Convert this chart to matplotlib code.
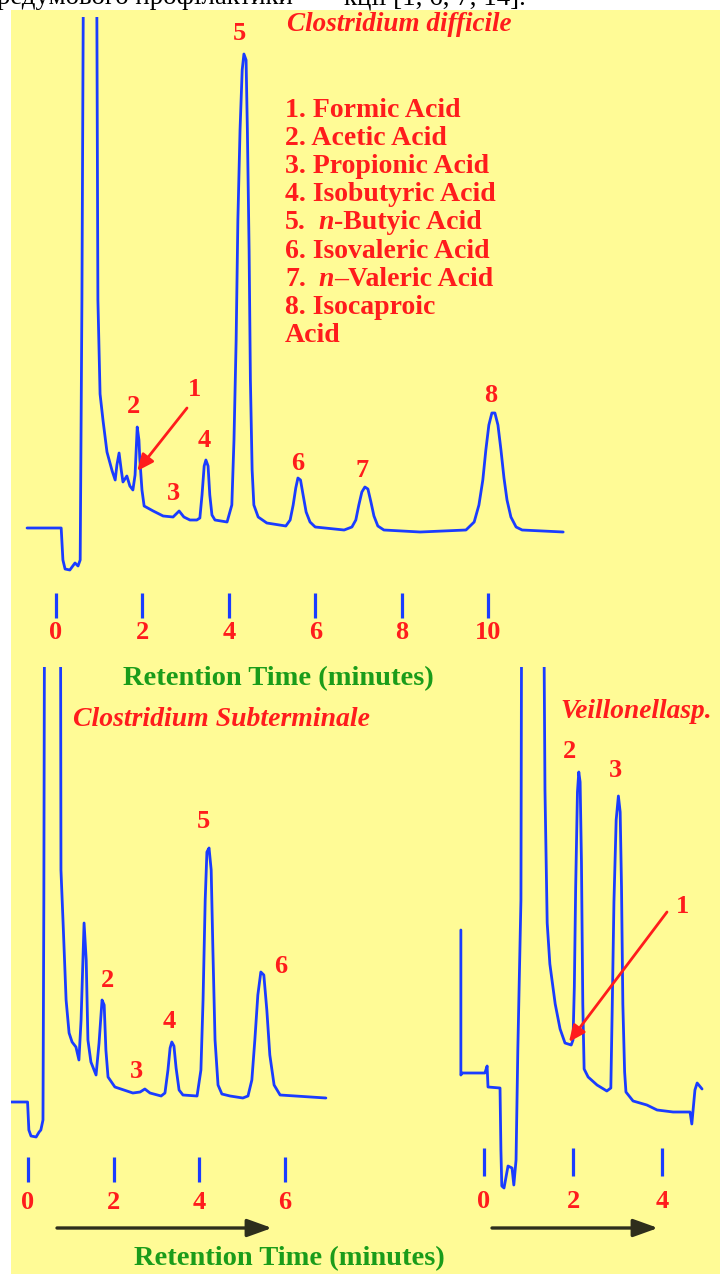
import matplotlib
matplotlib.use('Agg')
import matplotlib.pyplot as plt
from matplotlib.patches import Rectangle, FancyArrowPatch

# ---------------- data ----------------
# (retention time in min, detector signal in arbitrary units; >100 = off scale)
difficile_trace = [
    (-0.67, 0), (0.12, 0), (0.16, -6.4), (0.21, -8.2), (0.32, -8.4), (0.44, -7.0),
    (0.51, -7.6), (0.56, -6.4), (0.60, 45.6), (0.65, 140), (0.93, 140), (0.97, 45.6),
    (1.02, 26.8), (1.09, 21.4), (1.18, 15.2), (1.30, 11.4), (1.37, 9.6), (1.41, 12.6),
    (1.46, 15.0), (1.51, 11.6), (1.55, 9.2), (1.64, 10.4), (1.71, 8.4), (1.78, 7.6),
    (1.83, 10.6), (1.88, 20.2), (1.92, 17.6), (1.94, 13.8), (1.99, 7.6), (2.04, 4.4),
    (2.25, 3.4), (2.48, 2.4), (2.71, 2.2), (2.85, 3.4), (2.96, 2.2), (3.10, 1.6),
    (3.26, 1.6), (3.33, 2.0), (3.38, 6.6), (3.43, 12.4), (3.47, 13.6), (3.52, 12.4),
    (3.56, 6.6), (3.61, 2.6), (3.68, 1.6), (3.96, 1.2), (4.07, 4.6), (4.12, 17.6),
    (4.17, 37.6), (4.21, 61.6), (4.26, 79.6), (4.31, 91.6), (4.35, 94.8), (4.40, 93.6),
    (4.43, 79.6), (4.47, 55.6), (4.50, 29.6), (4.54, 11.6), (4.58, 4.6), (4.68, 2.2),
    (4.88, 1.0), (5.32, 0.4), (5.42, 1.6), (5.49, 4.6), (5.55, 8.0), (5.60, 10.0),
    (5.66, 9.6), (5.72, 6.6), (5.79, 3.2), (5.88, 1.2), (6.00, 0.2), (6.67, -0.4),
    (6.85, 0.2), (6.94, 1.6), (7.01, 4.6), (7.08, 7.2), (7.15, 8.2), (7.22, 7.8),
    (7.29, 5.2), (7.36, 2.4), (7.45, 0.4), (7.59, -0.4), (8.43, -0.8), (9.49, -0.4),
    (9.68, 1.2), (9.79, 4.6), (9.88, 9.6), (9.95, 15.6), (10.02, 20.6), (10.09, 23.0),
    (10.16, 23.0), (10.23, 20.6), (10.30, 15.6), (10.37, 10.0), (10.44, 5.6),
    (10.53, 2.2), (10.65, 0.2), (10.79, -0.4), (11.74, -0.8)]

subterm_trace = [
    (-0.39, -0.8), (-0.01, -0.8), (0.02, -6.4), (0.07, -7.6), (0.19, -7.8), (0.26, -6.8),
    (0.30, -6.4), (0.35, -4.4), (0.37, 39.6), (0.40, 150), (0.75, 150), (0.77, 45.6),
    (0.82, 35.0), (0.89, 19.6), (0.96, 13.0), (1.03, 11.2), (1.12, 10.2), (1.19, 7.6),
    (1.24, 15.6), (1.31, 35.0), (1.36, 27.6), (1.40, 11.6), (1.47, 7.2), (1.59, 4.6),
    (1.66, 11.0), (1.73, 19.6), (1.78, 18.6), (1.82, 9.6), (1.87, 4.2), (2.03, 2.2),
    (2.45, 1.0), (2.62, 1.2), (2.73, 1.8), (2.85, 1.0), (3.11, 0.4), (3.20, 1.0),
    (3.27, 5.6), (3.32, 10.0), (3.36, 11.2), (3.41, 10.4), (3.46, 6.0), (3.53, 1.6),
    (3.62, 0.6), (3.95, 0.4), (4.04, 5.6), (4.09, 19.6), (4.14, 39.6), (4.18, 49.2),
    (4.23, 50.0), (4.28, 45.6), (4.32, 29.6), (4.37, 11.6), (4.44, 2.6), (4.53, 0.8),
    (4.72, 0.4), (5.02, 0.0), (5.14, 0.4), (5.23, 3.6), (5.30, 11.6), (5.37, 20.6),
    (5.44, 25.2), (5.51, 24.6), (5.58, 17.6), (5.65, 8.6), (5.75, 2.6), (5.89, 0.6),
    (6.96, 0.0)]

veill_trace = [
    (-0.52, 36.4), (-0.52, 7.4), (-0.49, 7.8), (0.02, 7.8), (0.07, 9.2), (0.09, 5.0),
    (0.36, 4.8), (0.38, -7.6), (0.40, -14.8), (0.45, -15.2), (0.54, -10.8), (0.63, -11.2),
    (0.67, -14.6), (0.72, -9.6), (0.76, 12.4), (0.83, 42.4), (0.85, 120), (1.33, 120),
    (1.37, 64.4), (1.42, 37.8), (1.48, 29.6), (1.60, 21.6), (1.71, 16.6), (1.82, 13.8),
    (1.96, 13.4), (2.00, 14.4), (2.03, 25.0), (2.06, 45.0), (2.10, 64.0), (2.13, 68.0),
    (2.16, 66.0), (2.19, 50.0), (2.22, 21.6), (2.25, 8.6), (2.34, 7.0), (2.54, 5.4),
    (2.76, 4.2), (2.85, 4.8), (2.88, 20.0), (2.92, 42.0), (2.97, 58.4), (3.02, 63.2),
    (3.06, 60.0), (3.09, 45.0), (3.12, 21.6), (3.16, 8.0), (3.19, 4.0), (3.35, 2.2),
    (3.66, 1.4), (3.89, 0.4), (4.25, 0.0), (4.63, 0.0), (4.67, -2.4), (4.74, 4.4),
    (4.79, 5.8), (4.90, 4.6)]

difficile_ticks = [0, 2, 4, 6, 8, 10]
subterm_ticks = [0, 2, 4, 6]
veill_ticks = [0, 2, 4]

acid_names = ["1. Formic Acid", "2. Acetic Acid", "3. Propionic Acid",
              "4. Isobutyric Acid", ("5.", "n", "-Butyic Acid"), "6. Isovaleric Acid",
              ("7.", "n", "\u2013Valeric Acid"), "8. Isocaproic", "Acid"]

formic_difficile = (1.88, 11.4)   # peak 1 position (min, signal)
formic_veill = (1.91, 14.0)

# ---------------- style ----------------
W, H, DPI = 720, 1274, 100
BLUE = '#1a3cff'
RED = '#ff1c1c'
GREEN = '#1a9c1a'
YELLOW = '#fffb96'
SERIF = ['Liberation Serif', 'DejaVu Serif']

fig = plt.figure(figsize=(W / DPI, H / DPI), dpi=DPI, facecolor='white')
fig.add_artist(Rectangle((11 / W, 0), 1 - 11 / W, 1 - 10 / H, transform=fig.transFigure,
                         facecolor=YELLOW, edgecolor='none', zorder=-10))


def ftext(x, y, s, size=19, color=RED, ha='center', weight='bold', style='normal', **kw):
    return fig.text(x / W, 1 - y / H, s, ha=ha, va='baseline', fontsize=size, color=color,
                    family=SERIF, weight=weight, style=style, **kw)


def panel(px_box, x0_px, px_per_min, base_px, px_per_unit, spine_px, ticks, ticklen, pad):
    left, top, right, bottom = px_box
    ax = fig.add_axes([left / W, 1 - bottom / H, (right - left) / W, (bottom - top) / H])
    ax.set_xlim((left - x0_px) / px_per_min, (right - x0_px) / px_per_min)
    ax.set_ylim((base_px - bottom) / px_per_unit, (base_px - top) / px_per_unit)
    ax.patch.set_visible(False)
    for sp in ax.spines.values():
        sp.set_visible(False)
    ax.spines['bottom'].set_position(('data', (base_px - spine_px) / px_per_unit))
    ax.set_yticks([])
    ax.set_xticks(ticks)
    ax.set_xticklabels([str(t) for t in ticks])
    ax.tick_params(axis='x', direction='out', length=ticklen, width=2.3, color=BLUE,
                   pad=pad, labelsize=19, labelcolor=RED)
    for lab in ax.get_xticklabels():
        lab.set_fontfamily(SERIF)
        lab.set_fontweight('bold')
    return ax


def trace(ax, pts):
    t, s = zip(*pts)
    ax.plot(t, s, color=BLUE, lw=2.0, solid_joinstyle='round', solid_capstyle='round')


ax1 = panel((11, 17, 720, 600), 56, 43.2, 528, 5, 593, difficile_ticks, 18, 2.5)
trace(ax1, difficile_trace)

ax2 = panel((11, 667, 450, 1165), 28, 42.8, 1098, 5, 1157, subterm_ticks, 18, 6.5)
trace(ax2, subterm_trace)

ax3 = panel((450, 667, 720, 1195), 484, 44.5, 1112, 5, 1148, veill_ticks, 20, 10)
trace(ax3, veill_trace)

# red arrows to peak 1
red_arrow = dict(arrowstyle='-|>,head_length=0.45,head_width=0.2', color=RED,
                 lw=2.0, mutation_scale=22, shrinkA=0, shrinkB=0)
ax1.annotate('', xy=formic_difficile, xytext=(187, H - 408), textcoords='figure pixels',
             arrowprops=red_arrow)
ax3.annotate('', xy=formic_veill, xytext=(667, H - 912), textcoords='figure pixels',
             arrowprops=red_arrow)

# black time-direction arrows
for x0, x1 in [(57, 272), (492, 658)]:
    fig.add_artist(FancyArrowPatch(
        (x0, H - 1228), (x1, H - 1228), transform=None,
        arrowstyle='-|>,head_length=0.5,head_width=0.18', mutation_scale=30,
        color='#2e2e1c', lw=2.4, shrinkA=0, shrinkB=0))

# peak labels
peak_labels = [("1", 194, 396), ("2", 134, 413), ("3", 173, 500), ("4", 204, 447),
               ("5", 239, 40), ("6", 298, 470), ("7", 362, 477), ("8", 491, 402),
               ("2", 108, 987), ("3", 136, 1078), ("4", 169, 1028), ("5", 203, 828),
               ("6", 281, 973),
               ("2", 570, 758), ("3", 615, 777), ("1", 683, 913)]
for s, x, y in peak_labels:
    ftext(x, y, s)

# titles
ftext(287, 31, "Clostridium difficile", size=19.5, ha='left', style='italic')
ftext(73, 726, "Clostridium Subterminale", size=20, ha='left', style='italic')
ftext(560, 718, "Veillonellasp.", size=19.7, ha='left', style='italic')

# axis titles
ftext(278, 685, "Retention Time (minutes)", size=20.5, color=GREEN)
ftext(289, 1265, "Retention Time (minutes)", size=20.5, color=GREEN)

# legend of acids
fig.canvas.draw()
renderer = fig.canvas.get_renderer()
for i, name in enumerate(acid_names):
    y = 117 + 28.1 * i
    if isinstance(name, tuple):
        ftext(285, y, name[0], size=20, ha='left')
        t1 = ftext(318, y, name[1], size=20, ha='left', style='italic')
        bb = t1.get_window_extent(renderer)
        ftext(bb.x1 + 1, y, name[2], size=20, ha='left')
    else:
        ftext(285, y, name, size=20, ha='left')

# clipped running text of the page above the figure
ftext(-3, 4, "редумового профілактики", size=19.4, color='black', ha='left', weight='normal')
ftext(344, 4, "кції [1, 6, 7, 14].", size=19.4, color='black', ha='left', weight='normal')

fig.savefig('out.png', dpi=DPI, facecolor='white')
